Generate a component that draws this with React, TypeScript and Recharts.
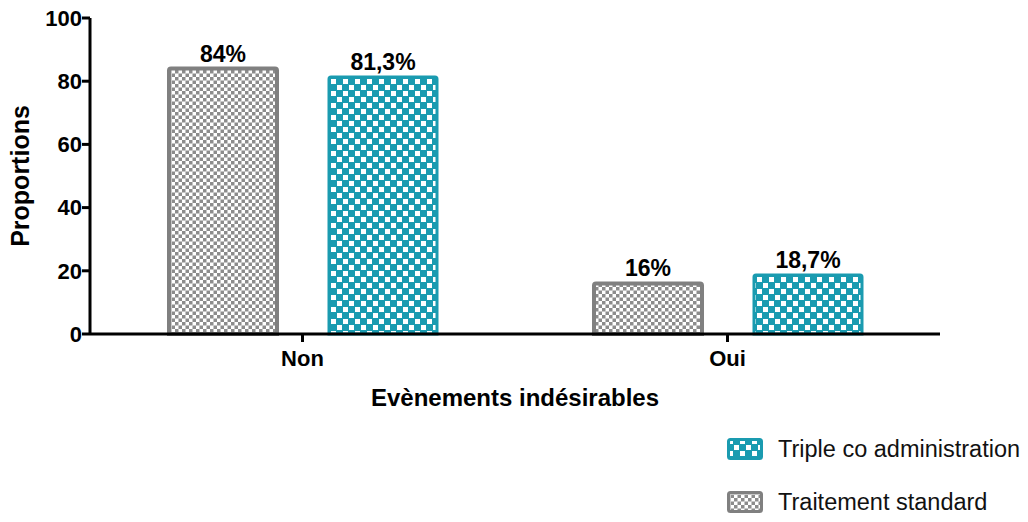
import React from 'react'
import { Bar, BarChart, LabelList, XAxis, YAxis } from 'recharts'

const categories = ['Non', 'Oui']
const standard = [84, 16]
const triple = [81.3, 18.7]
const yTicks = [0, 20, 40, 60, 80, 100]

const TEAL = '#1a9bb0'
const GRAY = '#808080'
const FONT = '"Liberation Sans", Arial, sans-serif'

const data = categories.map((c, i) => ({ name: c, standard: standard[i], triple: triple[i] }))

function fmtPct(v: any): string {
  return `${String(v).replace('.', ',')}%`
}

function Patterns(props: { suffix: string }) {
  const s = props.suffix
  return (
    <defs>
      <pattern id={`gray${s}`} width={7} height={7} patternUnits="userSpaceOnUse">
        <rect width={7} height={7} fill="#ffffff" />
        <rect width={3.5} height={3.5} fill="#8c8c8c" />
        <rect x={3.5} y={3.5} width={3.5} height={3.5} fill="#8c8c8c" />
      </pattern>
      <pattern id={`teal${s}`} width={12} height={12} patternUnits="userSpaceOnUse">
        <rect width={12} height={12} fill={TEAL} />
        <rect x={1} y={1} width={5} height={5} fill="#ffffff" />
        <rect x={7} y={7} width={5} height={5} fill="#ffffff" />
      </pattern>
    </defs>
  )
}

function YLabel(props: any) {
  const vb = props.viewBox
  const x = vb.x + 20
  const y = vb.y + vb.height / 2
  return (
    <text
      x={x}
      y={y}
      transform={`rotate(-90, ${x}, ${y})`}
      textAnchor="middle"
      dominantBaseline="central"
      style={{ fontFamily: FONT, fontWeight: 'bold', fontSize: 25, fill: '#000' }}
    >
      Proportions
    </text>
  )
}

const legendItems = [
  { name: 'Triple co administration', fill: 'teal', stroke: TEAL },
  { name: 'Traitement standard', fill: 'gray', stroke: GRAY },
]

export default function App() {
  const tickStyle = { fontFamily: FONT, fontWeight: 'bold' as const, fontSize: 22, fill: '#000' }
  const valueStyle = { fontFamily: FONT, fontWeight: 'bold' as const, fontSize: 23, fill: '#000' }
  return (
    <div style={{ position: 'absolute', left: 0, top: 0, width: 1028, height: 522, background: '#fff' }}>
      <BarChart
        width={1028}
        height={522}
        data={data}
        margin={{ top: 18, right: 88, bottom: 116, left: 0 }}
        barCategoryGap={79}
        barGap={52}
      >
        <Patterns suffix="" />
        <XAxis
          dataKey="name"
          height={72}
          axisLine={{ stroke: '#000', strokeWidth: 3 }}
          tickLine={{ stroke: '#000', strokeWidth: 3 }}
          tickSize={8}
          tickMargin={8}
          tick={tickStyle}
          label={{
            value: 'Evènements indésirables',
            position: 'insideBottom',
            offset: 0,
            style: { fontFamily: FONT, fontWeight: 'bold', fontSize: 24, fill: '#000' },
          }}
        />
        <YAxis
          width={90}
          domain={[0, 100]}
          ticks={yTicks}
          interval={0}
          axisLine={{ stroke: '#000', strokeWidth: 3 }}
          tickLine={{ stroke: '#000', strokeWidth: 3 }}
          tickSize={8}
          tickMargin={0}
          tick={tickStyle}
          label={<YLabel />}
        />
        <Bar dataKey="standard" name="Traitement standard" fill="url(#gray)" stroke={GRAY} strokeWidth={4} radius={[2, 2, 0, 0]} isAnimationActive={false}>
          <LabelList dataKey="standard" position="top" offset={7} formatter={fmtPct} style={valueStyle} />
        </Bar>
        <Bar dataKey="triple" name="Triple co administration" fill="url(#teal)" stroke={TEAL} strokeWidth={3} radius={[2, 2, 0, 0]} isAnimationActive={false}>
          <LabelList dataKey="triple" position="top" offset={7} formatter={fmtPct} style={valueStyle} />
        </Bar>
      </BarChart>
      <div style={{ position: 'absolute', left: 727, top: 435, fontFamily: FONT, fontSize: 23.5, color: '#111' }}>
        {legendItems.map((it, i) => (
          <div key={it.name} style={{ display: 'flex', alignItems: 'center', height: 28, marginBottom: i === 0 ? 25 : 0 }}>
            <svg width={36} height={22} style={{ marginRight: 15 }}>
              <Patterns suffix={`-lg${i}`} />
              <rect x={1.5} y={1.5} width={33} height={19} rx={2} fill={`url(#${it.fill}-lg${i})`} stroke={it.stroke} strokeWidth={3} />
            </svg>
            <span style={{ whiteSpace: 'nowrap' }}>{it.name}</span>
          </div>
        ))}
      </div>
    </div>
  )
}
